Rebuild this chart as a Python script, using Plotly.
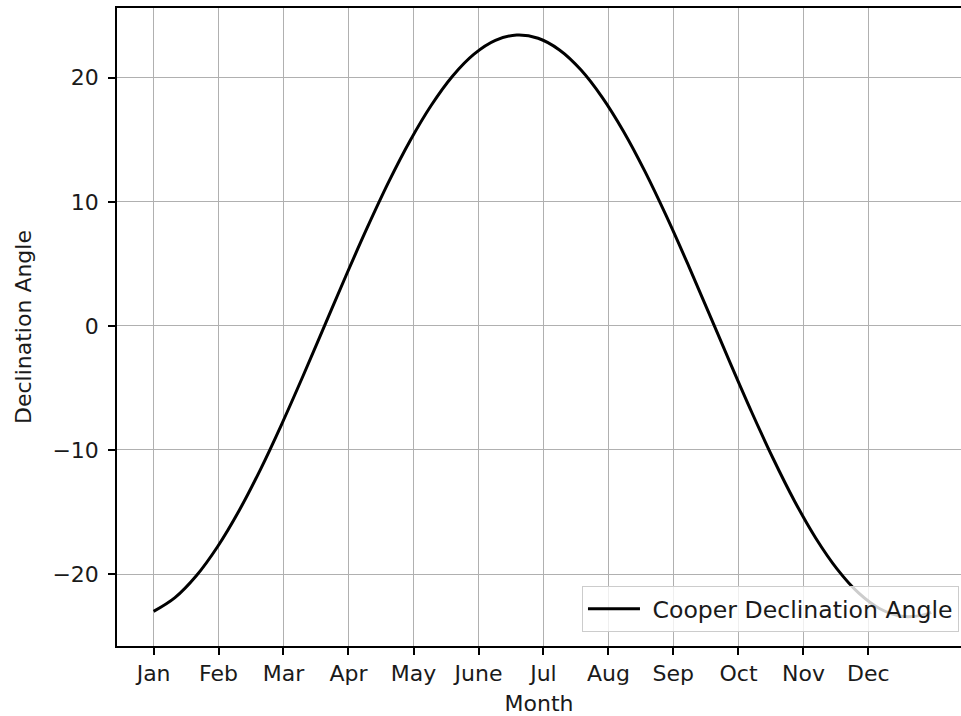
import plotly.graph_objects as go

# Data (day of year index, declination in degrees)
days = [0, 10, 20, 30, 40, 50, 60, 70, 80, 90, 100, 110, 120, 130, 140, 150, 160, 170,
        180, 190, 200, 210, 220, 230, 240, 250, 260, 270, 280, 290, 300, 310, 320, 330,
        340, 350, 360, 364]
declination = [-23.01, -21.90, -20.14, -17.78, -14.90, -11.58, -7.91, -4.02, 0.0, 4.02,
               7.91, 11.58, 14.90, 17.78, 20.14, 21.90, 23.01, 23.44, 23.18, 22.24, 20.64,
               18.42, 15.67, 12.45, 8.86, 5.01, 1.01, -3.02, -6.96, -10.69, -14.11, -17.11,
               -19.60, -21.52, -22.80, -23.40, -23.31, -23.09]

month_ticks = [0, 30.4, 60.8, 91.2, 121.7, 152.1, 182.5, 212.9, 243.3, 273.8, 304.2, 334.6]
month_labels = ["Jan", "Feb", "Mar", "Apr", "May", "June", "Jul", "Aug", "Sep", "Oct",
                "Nov", "Dec"]
y_ticks = [-20, -10, 0, 10, 20]

FONT = "DejaVu Sans"
TXT = "#1a1a1a"

fig = go.Figure()
fig.add_trace(go.Scatter(
    x=days, y=declination, mode="lines",
    line=dict(color="black", width=3, shape="spline", smoothing=1.0),
    name="\u00a0Cooper Declination Angle",
))

fig.update_layout(
    width=961, height=716,
    margin=dict(l=117, r=0, t=8, b=70),
    paper_bgcolor="white", plot_bgcolor="white",
    font=dict(family=FONT, size=22, color=TXT),
    showlegend=True,
    legend=dict(
        x=0.9976, y=0.022, xanchor="right", yanchor="bottom",
        bgcolor="rgba(255,255,255,0.8)", bordercolor="#cccccc", borderwidth=1,
        font=dict(family=FONT, size=23.6, color=TXT),
        itemwidth=52,
    ),
    xaxis=dict(
        range=[-17.13, 377.96],
        tickmode="array", tickvals=month_ticks, ticktext=month_labels,
        showgrid=True, gridcolor="#b0b0b0", gridwidth=1.3,
        showline=True, linecolor="black", linewidth=1.5, mirror=True,
        ticks="outside", ticklen=7, tickwidth=1.5, tickcolor="black",
        zeroline=False,
        title=dict(text="Month", font=dict(family=FONT, size=22, color=TXT), standoff=12),
    ),
    yaxis=dict(
        range=[-25.8, 25.62],
        tickmode="array", tickvals=y_ticks,
        ticktext=["\u221220", "\u221210", "0", "10", "20"],
        showgrid=True, gridcolor="#b0b0b0", gridwidth=1.3,
        showline=True, linecolor="black", linewidth=1.5, mirror=False,
        ticks="outside", ticklen=7, tickwidth=1.5, tickcolor="black",
        ticklabelstandoff=5,
        zeroline=False,
        title=dict(text="Declination Angle", font=dict(family=FONT, size=22, color=TXT), standoff=15),
    ),
)

fig.write_html("out.html")
